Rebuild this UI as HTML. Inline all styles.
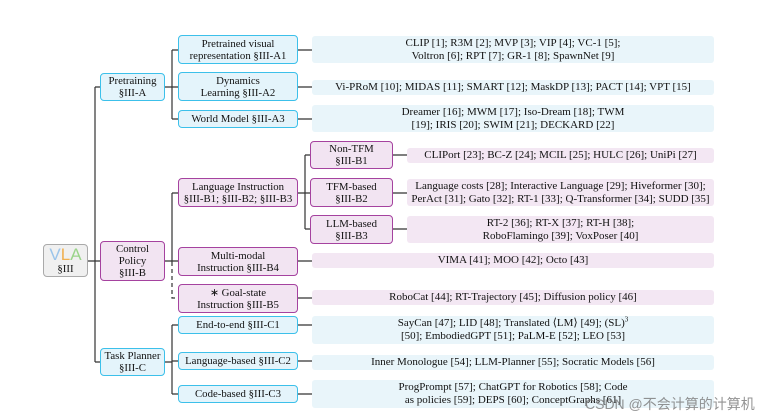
<!DOCTYPE html>
<html><head><meta charset="utf-8"><style>
body{margin:0;width:761px;height:416px;background:#fff;position:relative;overflow:hidden;font-family:"Liberation Serif",serif;color:#111}
.b{position:absolute;box-sizing:border-box;border-radius:4px;display:flex;align-items:center;justify-content:center;text-align:center;font-size:10.8px;line-height:12px}
.b>span{display:block}
.bl{border:1.3px solid #3cc0ea;background:#e4f4fb}
.pu{border:1.3px solid #a5429f;background:#f2e4f2}
.rb{background:#e9f5fa;border-radius:3px}
.rp{background:#f3e7f3;border-radius:3px}
.r{font-size:11px;line-height:13px}
svg{position:absolute;left:0;top:0}
</style></head><body>
<svg width="761" height="416"><g stroke="#333" stroke-width="1.2" fill="none">
<path d="M88 261H95M95 87V362M95 87H100M95 261H100M95 362H100"/>
<path d="M165 87H172M172 50V119M172 50H178M172 87H178M172 119H178"/>
<path d="M165 261H178M172 193V262M172 193H178"/>
<path d="M172 262V298H178" stroke-dasharray="4,3"/>
<path d="M165 362H172M172 325V394M172 325H178M172 361H178M172 394H178"/>
<path d="M298 193H305M305 155V229M305 155H310M305 193H310M305 229H310"/>
<path d="M298 50H312M298 87H312M298 119H312M393 155H407M393 193H407M393 229H407M298 261H312M298 298H312M298 325H312M298 361H312M298 394H312"/>
</g></svg>
<div class="b" style="left:43px;top:244px;width:45px;height:33px;border:1.3px solid #aaa;background:#f0f0f0;flex-direction:column"><span style="font-size:17px;line-height:17px;font-family:'Liberation Sans',sans-serif"><span style="color:#9ac4ea">V</span><span style="color:#f0b050">L</span><span style="color:#9ad48a">A</span></span><span>§III</span></div>
<div class="b bl" style="left:100px;top:73px;width:65px;height:28px"><span>Pretraining<br>§III-A</span></div>
<div class="b pu" style="left:100px;top:241px;width:65px;height:40px"><span>Control<br>Policy<br>§III-B</span></div>
<div class="b bl" style="left:100px;top:348px;width:65px;height:28px"><span>Task Planner<br>§III-C</span></div>
<div class="b bl" style="left:178px;top:35px;width:120px;height:29px"><span>Pretrained visual<br>representation §III-A1</span></div>
<div class="b bl" style="left:178px;top:72px;width:120px;height:29px"><span>Dynamics<br>Learning §III-A2</span></div>
<div class="b bl" style="left:178px;top:110px;width:120px;height:18px"><span>World Model §III-A3</span></div>
<div class="b pu" style="left:178px;top:178px;width:120px;height:29px"><span>Language Instruction<br>§III-B1; §III-B2; §III-B3</span></div>
<div class="b pu" style="left:178px;top:247px;width:120px;height:29px"><span>Multi-modal<br>Instruction §III-B4</span></div>
<div class="b pu" style="left:178px;top:284px;width:120px;height:29px"><span>∗ Goal-state<br>Instruction §III-B5</span></div>
<div class="b bl" style="left:178px;top:316px;width:120px;height:18px"><span>End-to-end §III-C1</span></div>
<div class="b bl" style="left:178px;top:352px;width:120px;height:18px"><span>Language-based §III-C2</span></div>
<div class="b bl" style="left:178px;top:385px;width:120px;height:18px"><span>Code-based §III-C3</span></div>
<div class="b pu" style="left:310px;top:141px;width:83px;height:28px"><span>Non-TFM<br>§III-B1</span></div>
<div class="b pu" style="left:310px;top:178px;width:83px;height:29px"><span>TFM-based<br>§III-B2</span></div>
<div class="b pu" style="left:310px;top:215px;width:83px;height:29px"><span>LLM-based<br>§III-B3</span></div>
<div class="b r rb" style="left:312px;top:36px;width:402px;height:27px"><span>CLIP [1]; R3M [2]; MVP [3]; VIP [4]; VC-1 [5];<br>Voltron [6]; RPT [7]; GR-1 [8]; SpawnNet [9]</span></div>
<div class="b r rb" style="left:312px;top:80px;width:402px;height:15px"><span>Vi-PRoM [10]; MIDAS [11]; SMART [12]; MaskDP [13]; PACT [14]; VPT [15]</span></div>
<div class="b r rb" style="left:312px;top:105px;width:402px;height:27px"><span>Dreamer [16]; MWM [17]; Iso-Dream [18]; TWM<br>[19]; IRIS [20]; SWIM [21]; DECKARD [22]</span></div>
<div class="b r rp" style="left:407px;top:148px;width:307px;height:15px"><span>CLIPort [23]; BC-Z [24]; MCIL [25]; HULC [26]; UniPi [27]</span></div>
<div class="b r rp" style="left:407px;top:179px;width:307px;height:27px"><span>Language costs [28]; Interactive Language [29]; Hiveformer [30];<br>PerAct [31]; Gato [32]; RT-1 [33]; Q-Transformer [34]; SUDD [35]</span></div>
<div class="b r rp" style="left:407px;top:216px;width:307px;height:27px"><span>RT-2 [36]; RT-X [37]; RT-H [38];<br>RoboFlamingo [39]; VoxPoser [40]</span></div>
<div class="b r rp" style="left:312px;top:253px;width:402px;height:15px"><span>VIMA [41]; MOO [42]; Octo [43]</span></div>
<div class="b r rp" style="left:312px;top:290px;width:402px;height:15px"><span>RoboCat [44]; RT-Trajectory [45]; Diffusion policy [46]</span></div>
<div class="b r rb" style="left:312px;top:316px;width:402px;height:28px"><span>SayCan [47]; LID [48]; Translated ⟨LM⟩ [49]; (SL)<sup style="font-size:7px;line-height:0">3</sup><br>[50]; EmbodiedGPT [51]; PaLM-E [52]; LEO [53]</span></div>
<div class="b r rb" style="left:312px;top:355px;width:402px;height:15px"><span>Inner Monologue [54]; LLM-Planner [55]; Socratic Models [56]</span></div>
<div class="b r rb" style="left:312px;top:380px;width:402px;height:28px"><span>ProgPrompt [57]; ChatGPT for Robotics [58]; Code<br>as policies [59]; DEPS [60]; ConceptGraphs [61]</span></div>
<div style="position:absolute;left:585px;top:394px;font-size:14px;color:rgba(120,120,120,0.8);font-family:'Liberation Sans','Noto Sans CJK SC',sans-serif">CSDN @不会计算的计算机</div>
</body></html>
